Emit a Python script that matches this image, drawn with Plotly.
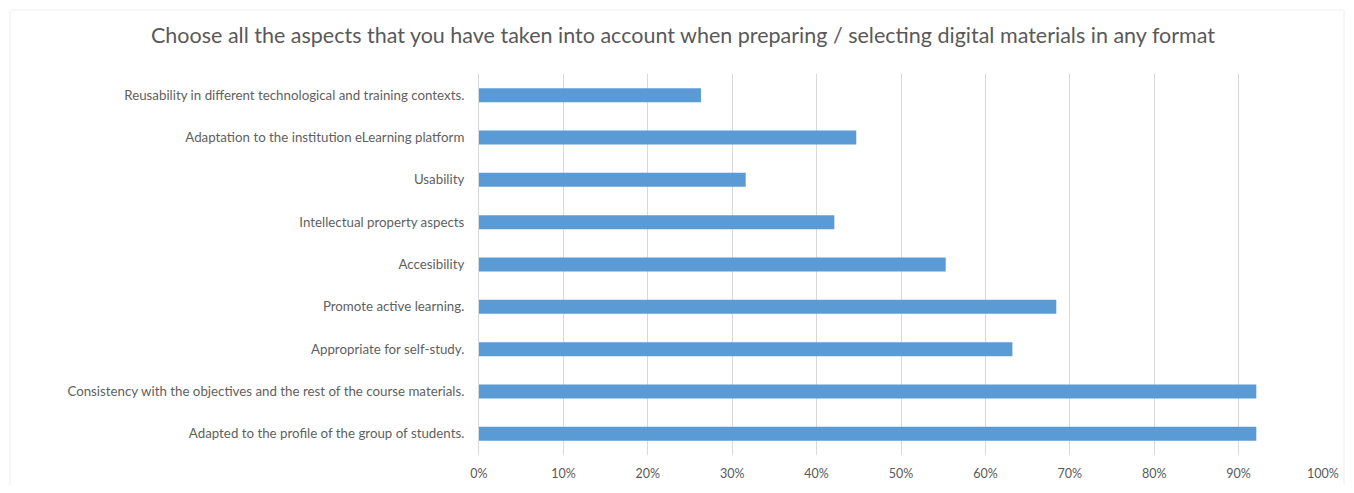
import plotly.graph_objects as go

categories = [
    "Adapted to the profile of the group of students.",
    "Consistency with the objectives and the rest of the course materials.",
    "Appropriate for self-study.",
    "Promote active learning.",
    "Accesibility",
    "Intellectual property aspects",
    "Usability",
    "Adaptation to the institution eLearning platform",
    "Reusability in different technological and training contexts.",
]
values = [0.921, 0.921, 0.632, 0.684, 0.553, 0.421, 0.316, 0.447, 0.263]
tick_vals = [0, 0.1, 0.2, 0.3, 0.4, 0.5, 0.6, 0.7, 0.8, 0.9, 1.0]
tick_text = ["0%", "10%", "20%", "30%", "40%", "50%", "60%", "70%", "80%", "90%", "100%"]

W, H = 1338, 477
L, R, T, B = 471, 23, 66, 30
PW, PH = W - L - R, H - T - B

fig = go.Figure(go.Bar(
    x=values, y=categories, orientation="h",
    marker=dict(color="#5B9BD5", line=dict(width=0)),
    width=0.33,
))

fig.update_layout(
    width=W, height=H,
    paper_bgcolor="white", plot_bgcolor="white",
    margin=dict(l=L, r=R, t=T, b=B, autoexpand=False),
    title=dict(
        text="Choose all the aspects that you have taken into account when preparing / selecting digital materials in any format",
        x=(683 - 8) / W, xanchor="center", y=1 - 27 / H, yanchor="middle",
        font=dict(family="Lato", size=21.5, color="#595959"),
    ),
    font=dict(family="Lato", size=12, color="#595959"),
    showlegend=False,
)
fig.update_xaxes(
    range=[0, 1.0], tickvals=tick_vals, ticktext=tick_text,
    showgrid=True, gridcolor="#D9D9D9", gridwidth=1,
    zeroline=False, showline=False,
    ticks="", ticklabelstandoff=9,
    tickfont=dict(size=12.5, color="#595959"),
)
fig.update_yaxes(
    showgrid=False, zeroline=False,
    showline=True, linecolor="#D9D9D9", linewidth=1,
    ticks="", ticklabelstandoff=11,
    tickfont=dict(size=13.3, color="#5F5F5F"),
)
fig.add_shape(type="rect", xref="paper", yref="paper",
              x0=-(L - 2) / PW, x1=1 + (R - 2) / PW, y0=-(B + 20) / PH, y1=1 + (T - 2) / PH,
              line=dict(color="#EEEEEE", width=1), fillcolor="rgba(0,0,0,0)", layer="below")

fig.write_html("out.html")
